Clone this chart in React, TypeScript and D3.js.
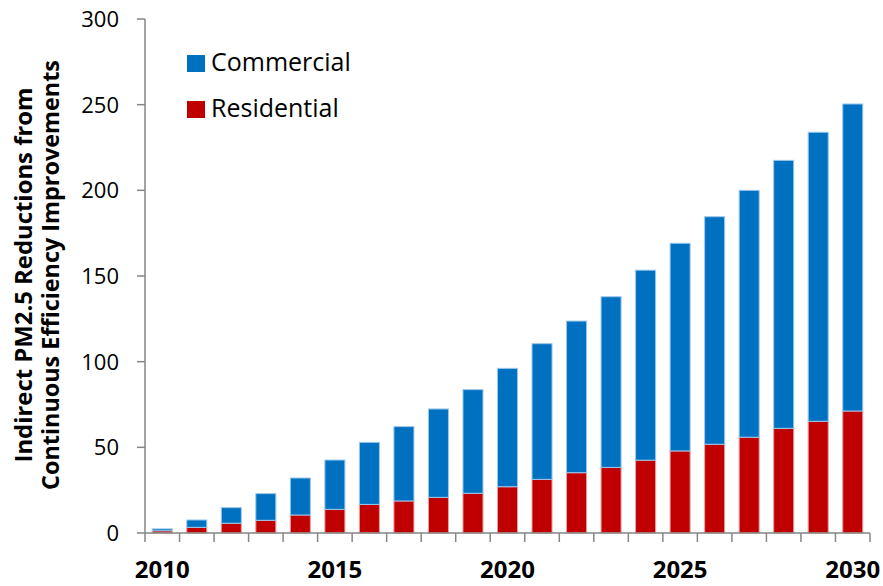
import React from "react";
import * as d3 from "d3";

const years = [2010, 2011, 2012, 2013, 2014, 2015, 2016, 2017, 2018, 2019, 2020, 2021, 2022, 2023, 2024, 2025, 2026, 2027, 2028, 2029, 2030];
const residential = [1.3, 3.3, 5.7, 7.4, 10.5, 13.8, 16.7, 18.7, 20.8, 23.2, 27.0, 31.3, 35.2, 38.3, 42.5, 47.9, 51.8, 55.9, 61.1, 65.2, 71.2];
const totals = [2.4, 7.6, 14.8, 23.0, 32.1, 42.6, 52.9, 62.1, 72.4, 83.7, 96.1, 110.5, 123.7, 137.9, 153.4, 169.1, 184.6, 200.0, 217.5, 233.9, 250.4];
const commercial = totals.map((t, i) => +(t - residential[i]).toFixed(1));
const yTicks = [0, 50, 100, 150, 200, 250, 300];
const xLabels = [2010, 2015, 2020, 2025, 2030];
const seriesNames = ["Residential", "Commercial"];
const colors: Record<string, string> = { Residential: "#C00000", Commercial: "#0070C0" };
const strokes: Record<string, string> = { Residential: "#E8A0A0", Commercial: "#9CC8EC" };
const titleLines = ["Indirect PM2.5 Reductions from", "Continuous Efficiency Improvements"];

export default function App() {
  const W = 883, H = 586;
  const left = 145, right = 870, top = 19, bottom = 533;
  const x = d3.scaleBand<number>().domain(years).range([left, right]).paddingInner(0.42).paddingOuter(0.21);
  const xOuter = d3.scaleBand<number>().domain(years).range([left, right]);
  const y = d3.scaleLinear().domain([0, 300]).range([bottom, top]);
  const rows = years.map((yr, i) => ({ year: yr, Residential: residential[i], Commercial: commercial[i] }));
  const stacked = d3.stack<any>().keys(seriesNames)(rows);
  const font = "'Open Sans', sans-serif";
  const axisColor = "#868686";
  const tickXs = years.map((yr) => xOuter(yr)!).concat([right]);
  const titleLens = [375, 430];

  return (
    <svg width={W} height={H} style={{ position: "absolute", left: 0, top: 0, background: "#fff" }}>
      {stacked.map((s) => (
        <g key={s.key}>
          {s.map((d, i) => (
            <rect
              key={i}
              x={x(years[i])}
              y={y(d[1])}
              width={x.bandwidth()}
              height={y(d[0]) - y(d[1])}
              fill={colors[s.key]}
              stroke={strokes[s.key]}
              strokeWidth={1}
            />
          ))}
        </g>
      ))}
      {/* y axis */}
      <line x1={left} x2={left} y1={top} y2={bottom} stroke={axisColor} strokeWidth={1.5} />
      {yTicks.map((t) => (
        <g key={t}>
          <line x1={left - 8} x2={left} y1={y(t)} y2={y(t)} stroke={axisColor} strokeWidth={1.5} />
          <text x={119} y={y(t)} dy="0.36em" textAnchor="end" fontFamily={font} fontSize={22} fill="#000">
            {t}
          </text>
        </g>
      ))}
      {/* x axis */}
      <line x1={left} x2={right} y1={bottom} y2={bottom} stroke={axisColor} strokeWidth={1.5} />
      {tickXs.map((tx, i) => (
        <line key={i} x1={tx} x2={tx} y1={bottom} y2={bottom + 9} stroke={axisColor} strokeWidth={1.5} />
      ))}
      {xLabels.map((yr) => (
        <text key={yr} x={xOuter(yr)! + xOuter.bandwidth() / 2} y={578} textAnchor="middle" fontFamily={font} fontWeight="bold" fontSize={24} fill="#000">
          {yr}
        </text>
      ))}
      {/* legend */}
      {["Commercial", "Residential"].map((k, i) => (
        <g key={k} transform={`translate(187, ${55 + i * 46})`}>
          <rect x={0} y={0} width={18} height={17} fill={colors[k]} />
          <text x={24} y={16} fontFamily={font} fontSize={25} fill="#000">
            {k}
          </text>
        </g>
      ))}
      {/* y title */}
      {titleLines.map((l, i) => (
        <text
          key={i}
          transform={`translate(${32 + i * 27}, 275) rotate(-90)`}
          textAnchor="middle"
          fontFamily={font}
          fontWeight="bold"
          fontSize={24}
          textLength={titleLens[i]}
          lengthAdjust="spacingAndGlyphs"
          fill="#000"
        >
          {l}
        </text>
      ))}
    </svg>
  );
}
